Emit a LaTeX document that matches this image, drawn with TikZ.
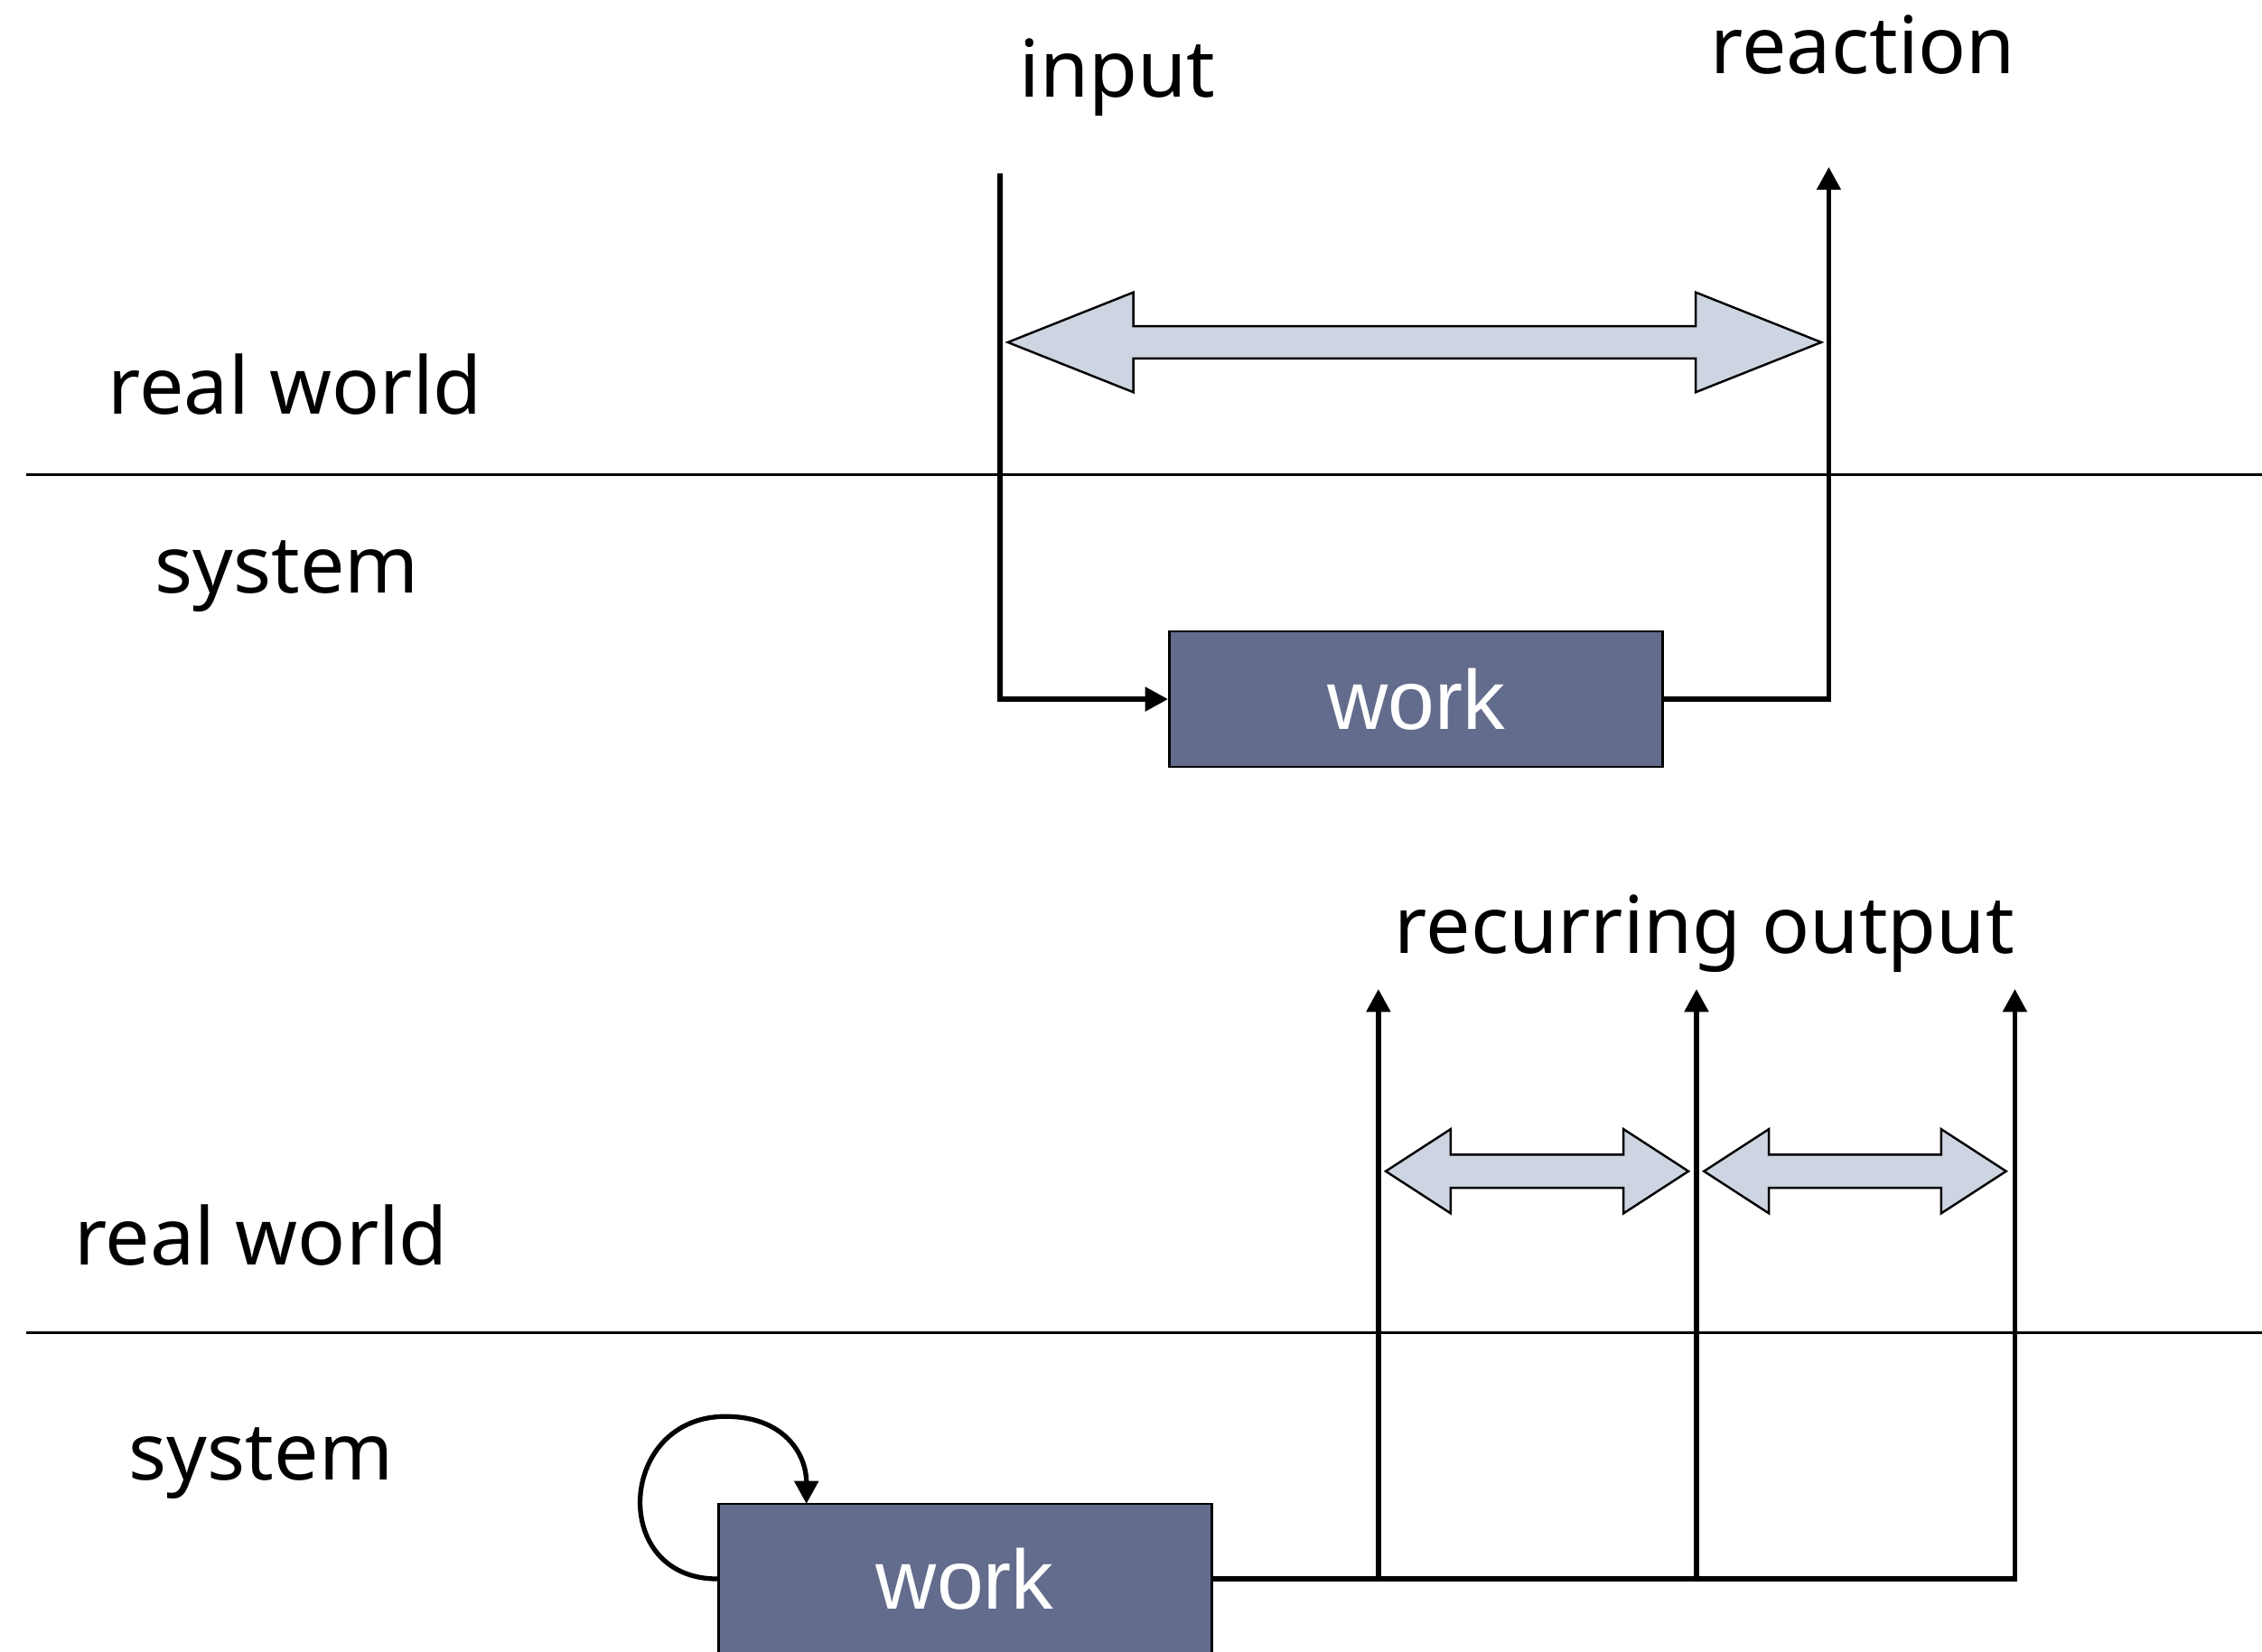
\documentclass[tikz,border=0pt]{standalone}
\usepackage{fontspec}
\setmainfont{Noto Sans}
\newfontfamily\boxfont{Liberation Sans}
\usetikzlibrary{arrows.meta}

\definecolor{workfill}{RGB}{99,108,140}
\definecolor{spanfill}{RGB}{206,213,226}

% block arrow with two heads: left tip, right tip, mid y, head length, body half-height, head half-height
\newcommand{\spanarrow}[6]{%
  \draw[span] (#1,#3) -- (#1+#4,#3-#6) -- (#1+#4,#3-#5) -- (#2-#4,#3-#5) -- (#2-#4,#3-#6)
    -- (#2,#3) -- (#2-#4,#3+#6) -- (#2-#4,#3+#5) -- (#1+#4,#3+#5) -- (#1+#4,#3+#6) -- cycle;}

\begin{document}
\begin{tikzpicture}[x=0.01597cm, y=-0.01597cm, font=\fontsize{25}{30}\selectfont,
  >={Triangle[length=7.2pt,width=7.4pt]},
  wire/.style={line width=1.5pt},
  divider/.style={line width=0.8pt},
  span/.style={draw, line width=0.7pt, fill=spanfill, line join=miter},
  work/.style={draw, line width=0.8pt, fill=workfill, text=white,
    font=\boxfont\fontsize{26.5}{30}\selectfont, minimum width=5.462cm, inner sep=0pt},
  lbl/.style={anchor=base}]
\clip (0,0) rectangle (1568,1145);
% upper panel: one input, one reaction
\draw[divider] (18,329) -- (1568,329);
\node[lbl] (rw1) at (204.6,287) {real world};
\node[lbl] (sys1) at (199,411) {system};
\node[lbl] (in) at (774.6,67) {input};
\node[lbl] (react) at (1291.5,51) {reaction};
\node[work, minimum height=1.501cm] (work1) at (981.5,484.7) {work};
\coordinate (instart) at (693.2,120);
\coordinate (reactend) at (1267.7,115.8);
\draw[wire, ->] (instart) |- (work1.west);
\draw[wire, ->] (work1.east) -| (reactend);
\spanarrow{698.6}{1262.5}{237.3}{87}{11.2}{34.6}
% lower panel: work keeps running and emits output over and over
\draw[divider] (18,924) -- (1568,924);
\node[lbl] (rw2) at (181,877) {real world};
\node[lbl] (sys2) at (181,1026) {system};
\node[lbl] (rec) at (1181.6,661) {recurring output};
\node[work, minimum height=1.661cm] (work2) at (668.9,1094.6) {work};
\foreach \i/\x in {1/955.5, 2/1176, 3/1396.7} {
  \coordinate (foot\i) at (\x,1094.6);
  \coordinate (out\i) at (\x,685.7);
}
\draw[wire, ->] (work2.east) -| (out3);
\foreach \i in {1,2} \draw[wire, ->] (foot\i) -- (out\i);
% self loop on the lower work box
\coordinate (looptop) at (503,982);
\coordinate (loopend) at (559,1042.6);
\draw[wire, ->] (work2.west) .. controls +(-75,0) and +(-75,0) .. (looptop)
  .. controls +(40,0) and +(0,-35) .. (loopend);
\spanarrow{960.6}{1170.4}{812}{45}{11.5}{29.2}
\spanarrow{1181.2}{1390.6}{812}{45}{11.5}{29.2}
\end{tikzpicture}
\end{document}
